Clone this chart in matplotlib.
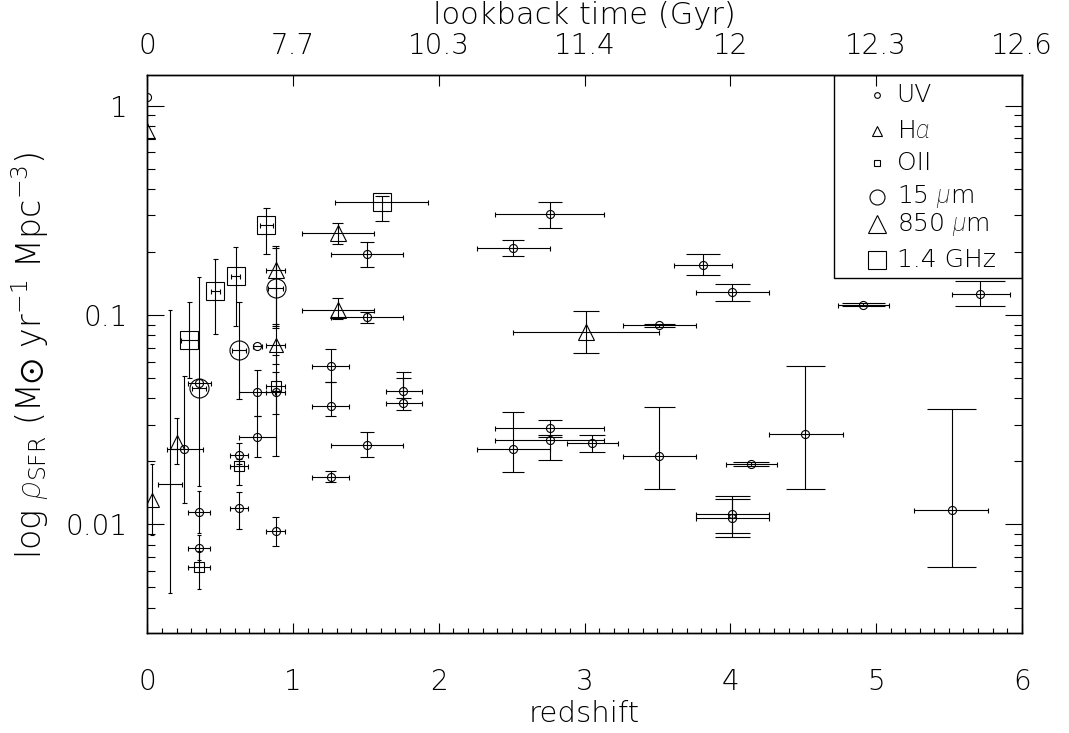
import numpy as np
import matplotlib
matplotlib.use("Agg")
import matplotlib.pyplot as plt
from matplotlib.patches import Rectangle

# ---------------------------------------------------------------------------
# Star-formation-rate density measurements, grouped by tracer.
# Each tracer: redshift, lower/upper redshift bounds, density, lower/upper density bounds
# ---------------------------------------------------------------------------
uv_z     = [0.000, 0.253, 0.354, 0.354, 0.354, 0.629, 0.629, 0.754, 0.754, 0.754,
            0.880, 0.880, 1.258, 1.258, 1.258, 1.507, 1.507, 1.507, 1.757, 1.757,
            2.509, 2.761, 2.509, 2.761, 2.761, 3.051, 3.513, 3.513, 3.813, 4.012,
            4.014, 4.014, 4.143, 4.516, 4.914, 5.518, 5.714]
uv_z_lo  = [0.000, 0.132, 0.277, 0.277, 0.277, 0.566, 0.566, 0.724, 0.629, 0.629,
            0.817, 0.817, 1.132, 1.132, 1.132, 1.258, 1.258, 1.258, 1.636, 1.636,
            2.260, 2.386, 2.260, 2.386, 2.386, 2.878, 3.262, 3.262, 3.612, 3.763,
            3.763, 3.763, 3.969, 4.266, 4.738, 5.264, 5.520]
uv_z_hi  = [0.000, 0.384, 0.434, 0.431, 0.431, 0.692, 0.692, 0.784, 0.876, 0.883,
            0.943, 0.943, 1.384, 1.384, 1.384, 1.756, 1.756, 1.756, 1.887, 1.887,
            2.761, 3.136, 2.761, 3.136, 3.136, 3.228, 3.765, 3.765, 4.014, 4.266,
            4.266, 4.266, 4.319, 4.770, 5.092, 5.771, 5.920]
uv_rho   = [1.100, 0.0230, 0.0473, 0.01146, 0.00776, 0.0215, 0.0120, 0.0713, 0.0427, 0.0263,
            0.0427, 0.00935, 0.0574, 0.0370, 0.01694, 0.195, 0.0978, 0.0240, 0.0436, 0.0380,
            0.209, 0.303, 0.0229, 0.0288, 0.0252, 0.0245, 0.0892, 0.0213, 0.1738, 0.129,
            0.01120, 0.01072, 0.01945, 0.0270, 0.112, 0.01175, 0.126]
uv_rho_lo = [1.100, 0.01265, 0.0473, 0.0091, 0.0068, 0.0195, 0.0095, 0.0713, 0.0331, 0.0209,
             0.0337, 0.00793, 0.0479, 0.0331, 0.0159, 0.170, 0.0915, 0.0209, 0.0400, 0.0353,
             0.1907, 0.262, 0.01778, 0.0268, 0.0204, 0.0223, 0.0875, 0.01475, 0.1547, 0.117,
             0.00908, 0.00875, 0.0191, 0.01475, 0.110, 0.00629, 0.110]
uv_rho_hi = [1.100, 0.0513, 0.0473, 0.0145, 0.0089, 0.0245, 0.0143, 0.0713, 0.0548, 0.0331,
             0.0536, 0.0109, 0.0690, 0.0479, 0.0181, 0.223, 0.104, 0.0275, 0.0537, 0.0500,
             0.229, 0.347, 0.0346, 0.0316, 0.0262, 0.0268, 0.0910, 0.0362, 0.1955, 0.141,
             0.01371, 0.0132, 0.0198, 0.0573, 0.114, 0.0356, 0.1449]

ha_z      = [0.032, 0.201, 0.880]
ha_z_lo   = [0.032, 0.201, 0.817]
ha_z_hi   = [0.032, 0.201, 0.943]
ha_rho    = [0.0131, 0.0249, 0.0721]
ha_rho_lo = [0.0089, 0.0195, 0.0585]
ha_rho_hi = [0.0195, 0.0324, 0.0907]

oii_z      = [0.354, 0.629, 0.880]
oii_z_lo   = [0.277, 0.566, 0.817]
oii_z_hi   = [0.431, 0.692, 0.943]
oii_rho    = [0.00629, 0.0191, 0.0460]
oii_rho_lo = [0.0049, 0.0154, 0.0213]
oii_rho_hi = [0.0075, 0.0205, 0.0646]

mir_z      = [0.354, 0.629, 0.880]
mir_z_lo   = [0.304, 0.579, 0.830]
mir_z_hi   = [0.404, 0.679, 0.930]
mir_rho    = [0.0448, 0.0678, 0.1345]
mir_rho_lo = [0.0152, 0.0398, 0.087]
mir_rho_hi = [0.152, 0.115, 0.210]

smm_z      = [0.000, 0.880, 1.306, 1.306, 3.012]
smm_z_lo   = [0.000, 0.817, 1.059, 1.059, 2.511]
smm_z_hi   = [0.000, 0.943, 1.557, 1.557, 3.513]
smm_rho    = [0.760, 0.164, 0.2455, 0.106, 0.083]
smm_rho_lo = [0.760, 0.089, 0.218, 0.0957, 0.0662]
smm_rho_hi = [0.760, 0.214, 0.275, 0.1205, 0.105]

radio_z      = [0.288, 0.466, 0.606, 0.816, 1.608]
radio_z_lo   = [0.228, 0.435, 0.575, 0.773, 1.286]
radio_z_hi   = [0.348, 0.497, 0.637, 0.859, 1.928]
radio_rho    = [0.0762, 0.131, 0.1545, 0.268, 0.347]
radio_rho_lo = [0.050, 0.0815, 0.089, 0.1955, 0.283]
radio_rho_hi = [0.115, 0.186, 0.2125, 0.3245, 0.371]

# measurement shown with error bars only
bare_z      = [0.155]
bare_z_lo   = [0.075]
bare_z_hi   = [0.235]
bare_rho    = [0.0156]
bare_rho_lo = [0.0047]
bare_rho_hi = [0.106]

# axis annotation
z_ticks = [0, 1, 2, 3, 4, 5, 6]
lookback_labels = ["0", "7.7", "10.3", "11.4", "12", "12.3", "12.6"]
rho_ticks = [0.01, 0.1, 1]
rho_tick_labels = ["0.01", "0.1", "1"]

legend_labels = ["UV", r"H$\alpha$", "OII", r"15 $\mu$m", r"850 $\mu$m", "1.4 GHz"]

# ---------------------------------------------------------------------------
FONT = "DejaVu Sans"
plt.rcParams["font.family"] = [FONT]
plt.rcParams["font.weight"] = 200
plt.rcParams["mathtext.fontset"] = "custom"
plt.rcParams["mathtext.rm"] = FONT + ":extralight"
plt.rcParams["mathtext.it"] = "Roboto:italic:light"
plt.rcParams["mathtext.bf"] = FONT + ":bold"
plt.rcParams["mathtext.fallback"] = "stixsans"

LW = 0.8
fig = plt.figure(figsize=(10.69, 7.33), dpi=100)
ax = fig.add_axes([0.1379, 0.136, 0.8179, 0.7617])
ax.set_yscale("log")
ax.set_xlim(0, 6)
ax.set_ylim(10 ** -2.52, 10 ** 0.147)


def draw(z, zlo, zhi, r, rlo, rhi, marker, ms, show_marker=True):
    z, zlo, zhi = map(np.asarray, (z, zlo, zhi))
    r, rlo, rhi = map(np.asarray, (r, rlo, rhi))
    hx = (zhi > zlo)
    if hx.any():
        ax.errorbar(z[hx], r[hx], xerr=[z[hx] - zlo[hx], zhi[hx] - z[hx]],
                    fmt="none", ecolor="k", elinewidth=LW, capsize=1.8,
                    capthick=LW, zorder=3)
    hy = (rhi > rlo)
    if hy.any():
        ax.errorbar(z[hy], r[hy], yerr=[r[hy] - rlo[hy], rhi[hy] - r[hy]],
                    fmt="none", ecolor="k", elinewidth=LW, capsize=0, zorder=3)
        # caps widen with redshift
        half = np.maximum(0.03 * z[hy], 0.016)
        ax.hlines(rlo[hy], z[hy] - half, z[hy] + half, colors="k", lw=LW, zorder=3)
        ax.hlines(rhi[hy], z[hy] - half, z[hy] + half, colors="k", lw=LW, zorder=3)
    if show_marker:
        ax.plot(z, r, linestyle="none", marker=marker, ms=ms, mfc="none",
                mec="k", mew=LW, zorder=4)


draw(uv_z, uv_z_lo, uv_z_hi, uv_rho, uv_rho_lo, uv_rho_hi, "o", 5.8)
draw(ha_z, ha_z_lo, ha_z_hi, ha_rho, ha_rho_lo, ha_rho_hi, "^", 9.4)
draw(oii_z, oii_z_lo, oii_z_hi, oii_rho, oii_rho_lo, oii_rho_hi, "s", 6.5)
draw(mir_z, mir_z_lo, mir_z_hi, mir_rho, mir_rho_lo, mir_rho_hi, "o", 13.7)
draw(smm_z, smm_z_lo, smm_z_hi, smm_rho, smm_rho_lo, smm_rho_hi, "^", 12.2)
draw(radio_z, radio_z_lo, radio_z_hi, radio_rho, radio_rho_lo, radio_rho_hi, "s", 13.0)
draw(bare_z, bare_z_lo, bare_z_hi, bare_rho, bare_rho_lo, bare_rho_hi, "o", 1, show_marker=False)

# axes frame and ticks
for s in ax.spines.values():
    s.set_linewidth(1.0)
TICK_FS = 20
ax.set_xticks(z_ticks)
ax.set_xticklabels([str(t) for t in z_ticks])
ax.xaxis.set_minor_locator(matplotlib.ticker.MultipleLocator(0.1))
ax.set_yticks(rho_ticks)
ax.set_yticklabels(rho_tick_labels)
ax.yaxis.set_minor_locator(matplotlib.ticker.LogLocator(base=10, subs=np.arange(2, 10)))
ax.yaxis.set_minor_formatter(matplotlib.ticker.NullFormatter())
ax.tick_params(axis="x", which="major", direction="in", length=7.2, width=LW,
               top=False, bottom=True, labelsize=TICK_FS, pad=25)
ax.tick_params(axis="x", which="minor", direction="in", length=3.6, width=LW,
               top=False, bottom=True)
ax.tick_params(axis="y", which="major", direction="in", length=12.2, width=LW,
               left=True, right=True, labelsize=TICK_FS, pad=14)
ax.tick_params(axis="y", which="minor", direction="in", length=5.8, width=LW,
               left=True, right=True)

ax_top = ax.twiny()
ax_top.set_xlim(ax.get_xlim())
ax_top.set_xticks(z_ticks)
ax_top.set_xticklabels(lookback_labels)
ax_top.tick_params(axis="x", which="major", direction="in", length=8, width=LW,
                   labelsize=TICK_FS, pad=11)
ax_top.xaxis.set_minor_locator(matplotlib.ticker.NullLocator())
for s in ax_top.spines.values():
    s.set_linewidth(1.0)

# axis titles
fig.text(584 / 1069, 1 - 714 / 733, "redshift", ha="center", va="center", fontsize=21)
fig.text(584 / 1069, 1 - 15 / 733, "lookback time (Gyr)", ha="center", va="center",
         fontsize=22)
fig.text(30 / 1069, 1 - 355 / 733,
         r"log $\rho_{\mathrm{SFR}}$ (M$\odot$ yr$^{-1}$ Mpc$^{-3}$)",
         ha="center", va="center", rotation=90, fontsize=24)

# legend panel
box_x0, box_y0 = 0.7856, 0.6359
ax.add_patch(Rectangle((box_x0, box_y0), 1 - box_x0, 1 - box_y0, transform=ax.transAxes,
                       fill=False, lw=1.0, ec="k", zorder=1))
leg_y = [0.9641, 0.8996, 0.8429, 0.7820, 0.7326, 0.6686]
leg_marker = ["o", "^", "s", "o", "^", "s"]
leg_ms = [4.1, 6.5, 4.3, 10.8, 12.5, 12.5]
for y, m, ms, lab in zip(leg_y, leg_marker, leg_ms, legend_labels):
    ax.plot([0.8348], [y], transform=ax.transAxes, marker=m, ms=ms, mfc="none",
            mec="k", mew=LW, linestyle="none", clip_on=False, zorder=4)
    ax.text(0.8569, y, lab, transform=ax.transAxes, ha="left", va="center", fontsize=18)

fig.savefig("out.png", dpi=100)
